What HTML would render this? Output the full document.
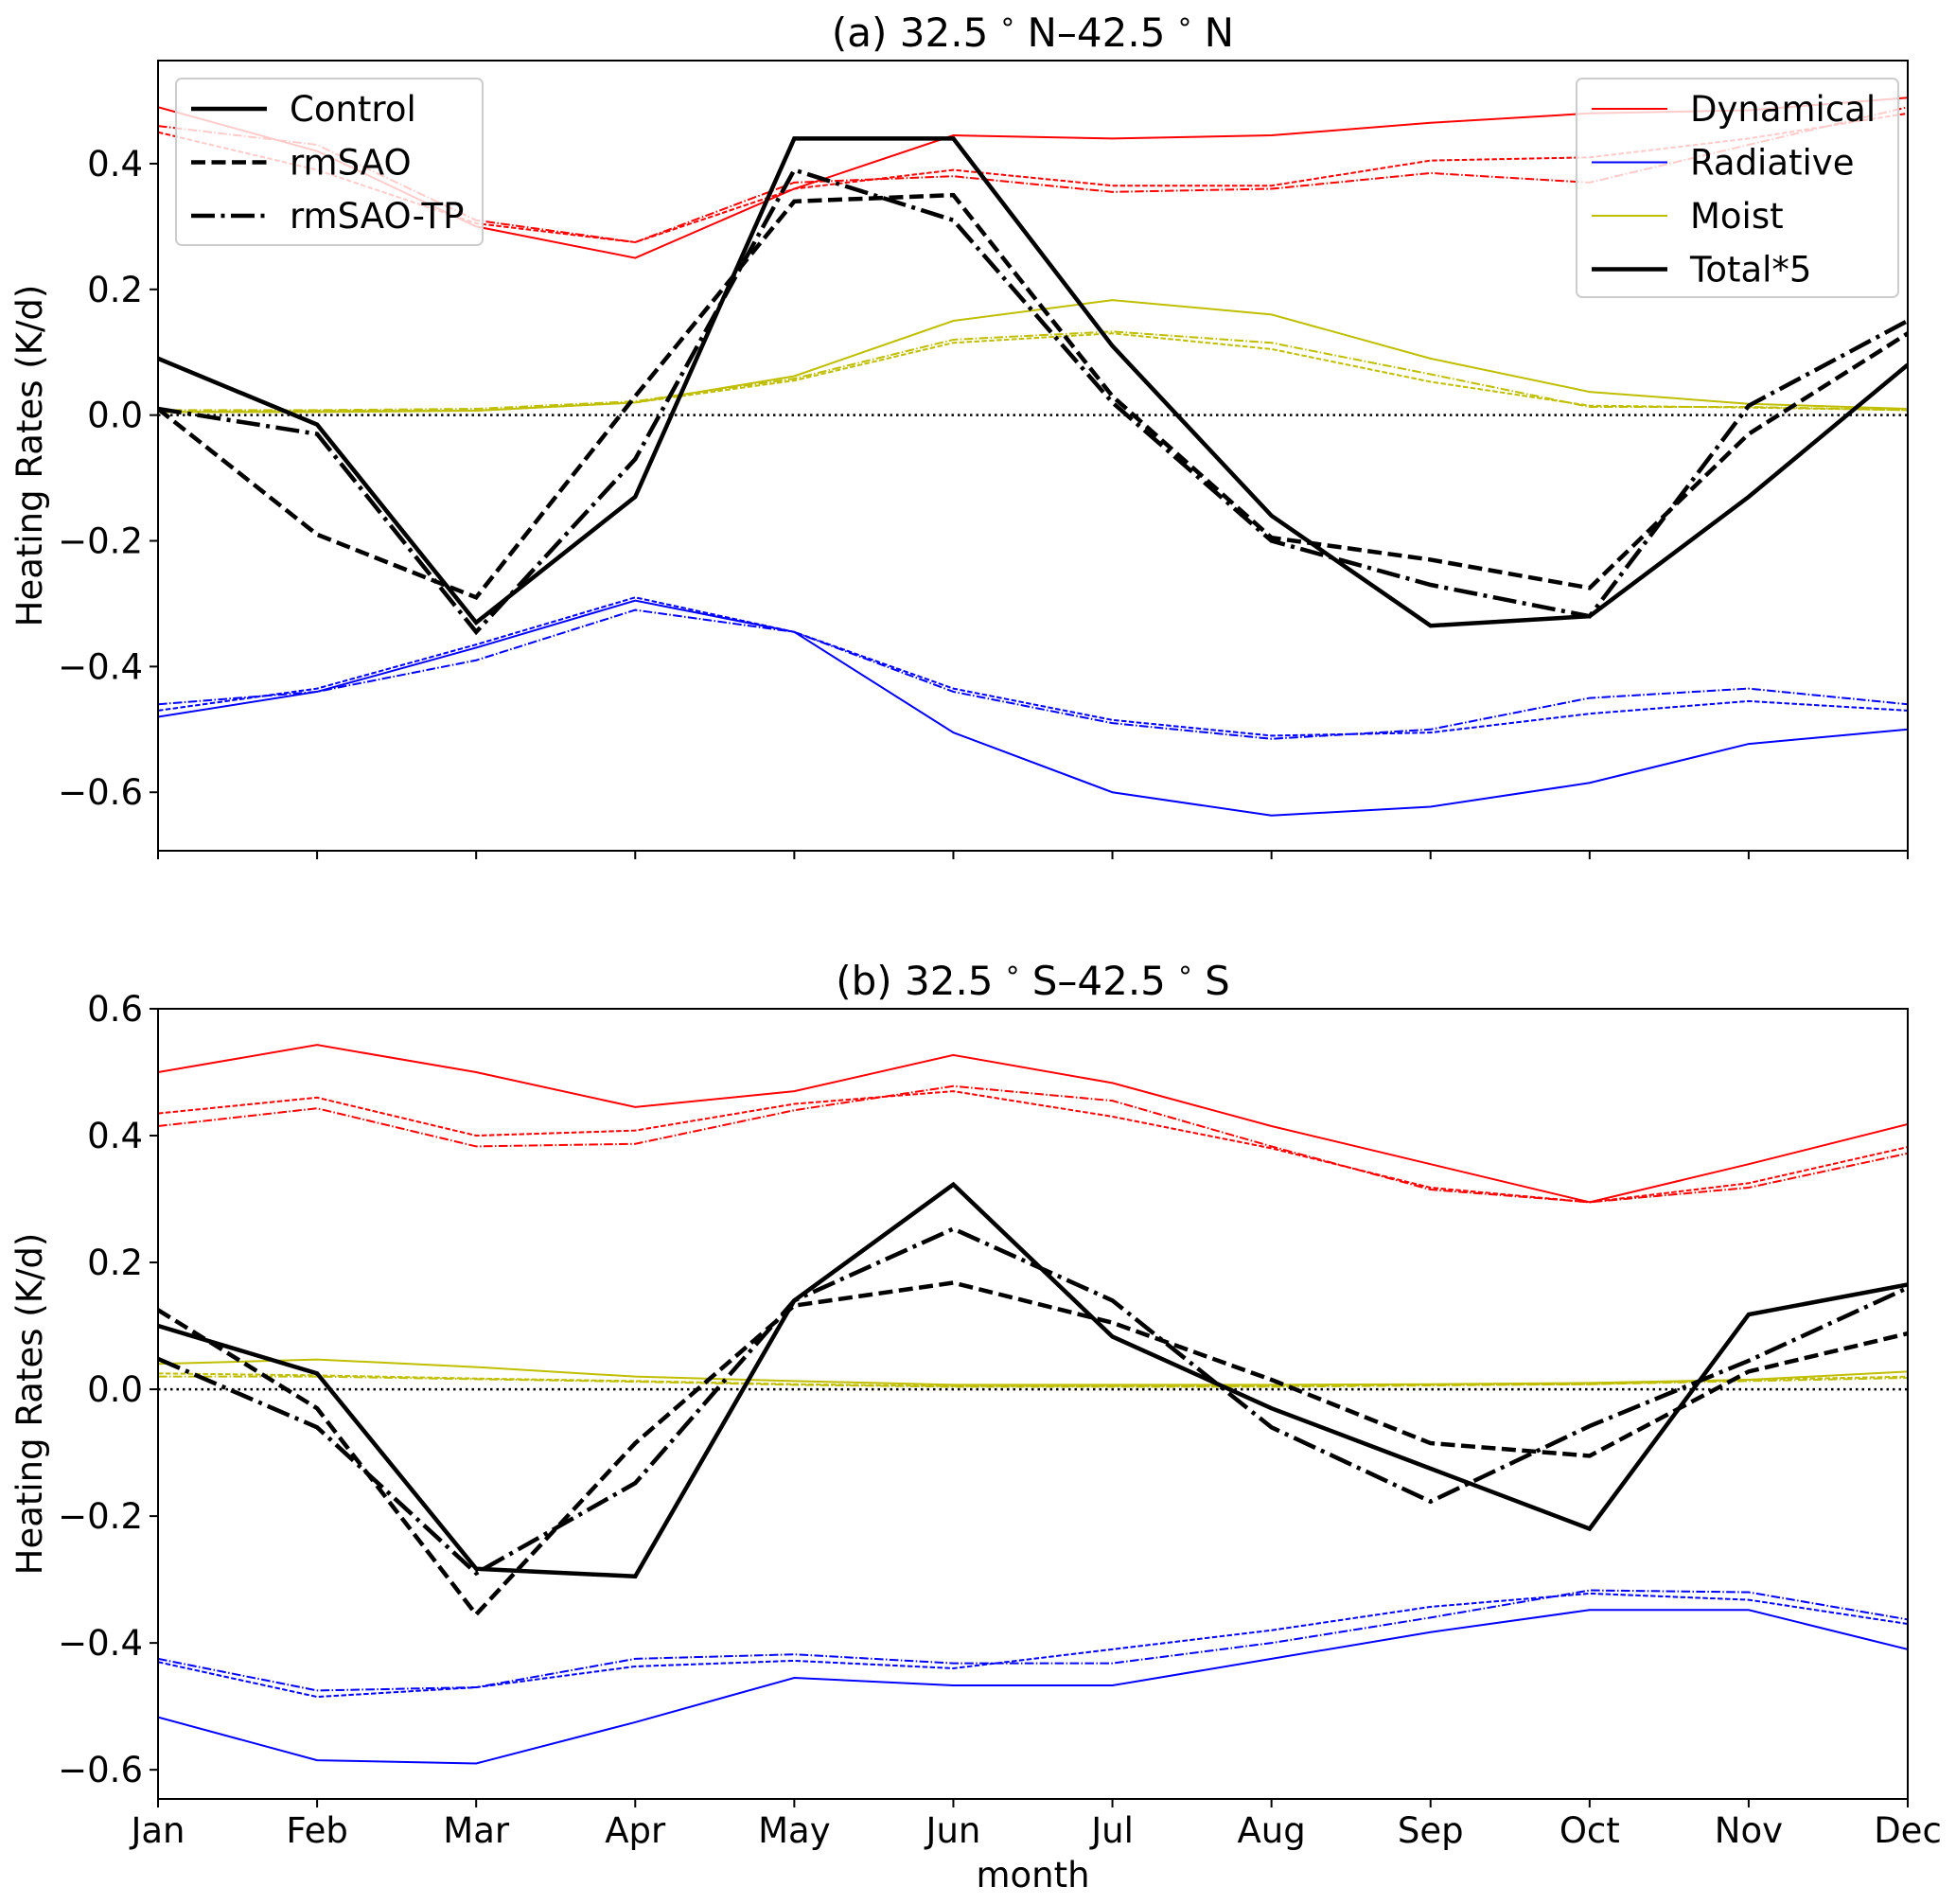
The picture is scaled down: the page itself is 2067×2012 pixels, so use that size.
<!DOCTYPE html>
<html><head><meta charset="utf-8"><style>
html,body{margin:0;padding:0;background:#fff}
svg text{font-family:"DejaVu Sans","Liberation Sans",sans-serif;fill:#000}
</style></head><body>
<svg id="chart" width="2067" height="2007" viewBox="0 0 2067 2007" xmlns="http://www.w3.org/2000/svg"></svg>
<script>
const months=["Jan","Feb","Mar","Apr","May","Jun","Jul","Aug","Sep","Oct","Nov","Dec"];
// Panel (a) 32.5N-42.5N
const aDynCtl=[0.49,0.42,0.30,0.25,0.36,0.445,0.44,0.445,0.465,0.48,0.485,0.505];
const aDynSAO=[0.45,0.39,0.305,0.275,0.36,0.39,0.365,0.365,0.405,0.41,0.44,0.48];
const aDynTP=[0.46,0.43,0.31,0.275,0.37,0.38,0.355,0.36,0.385,0.37,0.43,0.49];
const aRadCtl=[-0.48,-0.44,-0.37,-0.295,-0.345,-0.505,-0.6,-0.637,-0.623,-0.585,-0.523,-0.50];
const aRadSAO=[-0.47,-0.435,-0.365,-0.29,-0.345,-0.435,-0.485,-0.51,-0.505,-0.475,-0.455,-0.47];
const aRadTP=[-0.46,-0.44,-0.39,-0.31,-0.345,-0.44,-0.49,-0.515,-0.50,-0.45,-0.435,-0.46];
const aMoiCtl=[0.005,0.005,0.007,0.02,0.062,0.15,0.183,0.16,0.09,0.037,0.018,0.01];
const aMoiSAO=[0.005,0.007,0.007,0.02,0.055,0.115,0.13,0.105,0.053,0.015,0.012,0.008];
const aMoiTP=[0.008,0.008,0.01,0.022,0.058,0.12,0.133,0.115,0.065,0.013,0.013,0.008];
const aTotCtl=[0.09,-0.015,-0.33,-0.13,0.44,0.44,0.11,-0.16,-0.335,-0.32,-0.13,0.08];
const aTotSAO=[0.01,-0.19,-0.29,0.03,0.34,0.35,0.03,-0.195,-0.23,-0.275,-0.03,0.13];
const aTotTP=[0.01,-0.03,-0.345,-0.07,0.39,0.31,0.02,-0.2,-0.27,-0.32,0.015,0.15];
// Panel (b) 32.5S-42.5S
const bDynCtl=[0.50,0.543,0.50,0.445,0.47,0.527,0.483,0.415,0.355,0.295,0.355,0.418];
const bDynSAO=[0.435,0.46,0.40,0.408,0.45,0.47,0.43,0.38,0.318,0.295,0.325,0.382];
const bDynTP=[0.415,0.443,0.383,0.387,0.44,0.478,0.455,0.383,0.315,0.295,0.318,0.372];
const bRadCtl=[-0.517,-0.585,-0.59,-0.525,-0.455,-0.467,-0.467,-0.425,-0.383,-0.348,-0.348,-0.41];
const bRadSAO=[-0.43,-0.485,-0.47,-0.437,-0.428,-0.44,-0.41,-0.38,-0.343,-0.322,-0.332,-0.37];
const bRadTP=[-0.425,-0.475,-0.47,-0.425,-0.418,-0.432,-0.432,-0.4,-0.36,-0.317,-0.32,-0.363];
const bMoiCtl=[0.04,0.047,0.035,0.02,0.013,0.007,0.007,0.007,0.008,0.01,0.015,0.028];
const bMoiSAO=[0.025,0.022,0.017,0.013,0.008,0.005,0.005,0.005,0.007,0.008,0.015,0.02];
const bMoiTP=[0.02,0.02,0.016,0.012,0.007,0.004,0.004,0.004,0.006,0.008,0.013,0.018];
const bTotCtl=[0.1,0.025,-0.283,-0.295,0.14,0.323,0.083,-0.03,-0.125,-0.22,0.118,0.165];
const bTotSAO=[0.125,-0.03,-0.355,-0.085,0.132,0.168,0.105,0.015,-0.085,-0.105,0.028,0.088];
const bTotTP=[0.048,-0.06,-0.29,-0.148,0.14,0.253,0.14,-0.06,-0.177,-0.058,0.045,0.16];
const aTicks=[-0.6,-0.4,-0.2,0.0,0.2,0.4];
const bTicks=[-0.6,-0.4,-0.2,0.0,0.2,0.4,0.6];

const NS="http://www.w3.org/2000/svg";
const svg=document.getElementById('chart');
function el(tag,attrs,parent){const e=document.createElementNS(NS,tag);for(const k in attrs)e.setAttribute(k,attrs[k]);(parent||svg).appendChild(e);return e;}
const X0=167,X1=2016;
function xs(i){return X0+(X1-X0)*i/11;}
const fmt=v=>(v<0?"\u2212":"")+Math.abs(v).toFixed(1);
const FS=37;

function panel(key,top,bottom,ymin,ymax,ticks,title,series,showMonthLabels){
  const g=el('g',{});
  
  
  const ys=v=>bottom-(v-ymin)/(ymax-ymin)*(bottom-top);
  const cid='clip-'+key;
  const cp=el('clipPath',{id:cid},g);el('rect',{x:X0,y:top,width:X1-X0,height:bottom-top},cp);
  const z=el('line',{x1:X0,x2:X1,y1:ys(0),y2:ys(0),stroke:'#000','stroke-width':2.5,'stroke-dasharray':'2.5,4'},g);
  
  
  const lg=el('g',{'clip-path':'url(#'+cid+')'},g);
  series.forEach(s=>{
    const p=el('polyline',{points:s.data.map((v,i)=>xs(i)+','+ys(v)).join(' '),fill:'none',stroke:s.color,'stroke-width':s.w,'stroke-linejoin':'miter'},lg);
    if(s.dash)p.setAttribute('stroke-dasharray',s.dash);
    
    
  });
  const fr=el('rect',{x:X0,y:top,width:X1-X0,height:bottom-top,fill:'none',stroke:'#000','stroke-width':2},g);
  
  
  ticks.forEach(t=>{
    const y=ys(t);
    el('line',{x1:X0-9,x2:X0,y1:y,y2:y,stroke:'#000','stroke-width':2},g);
    const tx=el('text',{x:X0-16,y:y+13,'font-size':FS,'text-anchor':'end'},g);tx.textContent=fmt(t);
    
    
  });
  months.forEach((m,i)=>{
    el('line',{x1:xs(i),x2:xs(i),y1:bottom,y2:bottom+9,stroke:'#000','stroke-width':2},g);
    if(showMonthLabels){
      const tx=el('text',{x:xs(i),y:bottom+46,'font-size':FS,'text-anchor':'middle'},g);tx.textContent=m;
      
      
    }
  });
  const tt=el('text',{x:(X0+X1)/2,y:top-15,'font-size':42,'text-anchor':'middle','xml:space':'preserve'},g);
  title.forEach(part=>{const ts=el('tspan',part.sup?{'baseline-shift':'30%','font-size':29}:{},tt);ts.textContent=part.t;});
  
  
  const yl=el('text',{x:0,y:0,'font-size':FS,'text-anchor':'middle',transform:'translate(44,'+((top+bottom)/2)+') rotate(-90)'},g);yl.textContent='Heating Rates (K/d)';
  
  
}
const R='#ff0000',B='#0000ff',Y='#bfbf00';
const thinDash='5.5,2.4',thinDD='9.6,2.4,1.5,2.4',thickDash='15,6.5',thickDD='25,6.5,4,6.5';
function mk(D){return [
 {name:'dynamical-control',data:D[0],color:R,w:2},{name:'dynamical-rmsao',data:D[1],color:R,w:2,dash:thinDash},{name:'dynamical-rmsao-tp',data:D[2],color:R,w:2,dash:thinDD},
 {name:'radiative-control',data:D[3],color:B,w:2},{name:'radiative-rmsao',data:D[4],color:B,w:2,dash:thinDash},{name:'radiative-rmsao-tp',data:D[5],color:B,w:2,dash:thinDD},
 {name:'moist-control',data:D[6],color:Y,w:2},{name:'moist-rmsao',data:D[7],color:Y,w:2,dash:thinDash},{name:'moist-rmsao-tp',data:D[8],color:Y,w:2,dash:thinDD},
 {name:'total-control',data:D[9],color:'#000',w:4.5},{name:'total-rmsao',data:D[10],color:'#000',w:4.5,dash:thickDash},{name:'total-rmsao-tp',data:D[11],color:'#000',w:4.5,dash:thickDD}];}
panel('panel-a',64,899,-0.693,0.564,aTicks,[{t:'(a) 32.5 '},{t:'\u00b0',sup:1},{t:' N\u201342.5 '},{t:'\u00b0',sup:1},{t:' N'}],mk([aDynCtl,aDynSAO,aDynTP,aRadCtl,aRadSAO,aRadTP,aMoiCtl,aMoiSAO,aMoiTP,aTotCtl,aTotSAO,aTotTP]),false);
panel('panel-b',1066,1901,-0.646,0.6,bTicks,[{t:'(b) 32.5 '},{t:'\u00b0',sup:1},{t:' S\u201342.5 '},{t:'\u00b0',sup:1},{t:' S'}],mk([bDynCtl,bDynSAO,bDynTP,bRadCtl,bRadSAO,bRadTP,bMoiCtl,bMoiSAO,bMoiTP,bTotCtl,bTotSAO,bTotTP]),true);
const xl=el('text',{x:(X0+X1)/2,y:1994,'font-size':FS,'text-anchor':'middle'});xl.textContent='month';



function legend(key,x,y,w,h,items){
  const g=el('g',{});
  
  
  el('rect',{x:x,y:y,width:w,height:h,rx:6,fill:'#fff','fill-opacity':0.8,stroke:'#ccc','stroke-width':2},g);
  items.forEach((it,i)=>{
    const cy=y+32+i*56.5;
    const l=el('line',{x1:x+16,x2:x+96,y1:cy,y2:cy,stroke:it.c,'stroke-width':it.w},g);
    if(it.d)l.setAttribute('stroke-dasharray',it.d);
    const t=el('text',{x:x+120,y:cy+13,'font-size':FS},g);t.textContent=it.t;
    
    
  });
}
legend('legend-experiments',186,83,324,176,[{t:'Control',c:'#000',w:4.5},{t:'rmSAO',c:'#000',w:4.5,d:thickDash},{t:'rmSAO-TP',c:'#000',w:4.5,d:thickDD}]);
legend('legend-terms',1666,83,340,231,[{t:'Dynamical',c:R,w:2},{t:'Radiative',c:B,w:2},{t:'Moist',c:Y,w:2},{t:'Total*5',c:'#000',w:4.5}]);
</script>
</body></html>
